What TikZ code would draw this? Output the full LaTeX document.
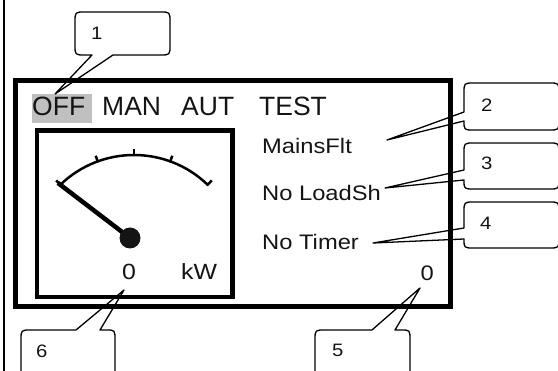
\documentclass[tikz,border=0pt]{standalone}
\usepackage{graphicx}
\usepackage{fontspec}
\setmainfont{Liberation Sans}
\definecolor{hl}{RGB}{192,192,192}
\definecolor{ink}{RGB}{20,20,20}
\newcommand{\sx}[1]{\scalebox{1.13}[1]{#1}}
% left-pointing callout: #1 top, #2 bottom, #3 upper junction, #4 tip
\newcommand{\lcallout}[4]{%
  \draw[callout] (474,#1) -- (549,#1) .. controls (559,#1) .. (559,{#1+10}) -- (559,{#2-10})
    .. controls (559,#2) .. (549,#2) -- (474,#2) .. controls (464,#2) .. (464,{#2-9})
    -- (#4) -- (464,#3) -- (464,{#1+10}) .. controls (464,#1) .. (474,#1) -- cycle;}
\begin{document}
\begin{tikzpicture}[x=1pt,y=-1pt,
  txt/.style={anchor=base west,inner sep=0pt,text=ink},
  mode/.style={txt,font=\fontsize{26.5}{30}\selectfont},
  lbl/.style={txt,font=\fontsize{21}{24}\selectfont},
  mlbl/.style={txt,font=\fontsize{22}{25}\selectfont},
  num/.style={txt,font=\fontsize{18}{21}\selectfont},
  frame/.style={line width=5pt},
  meterbox/.style={line width=4.5pt},
  callout/.style={line width=1.3pt,line join=round},
  gaugearc/.style={line width=2.5pt},
  needle/.style={line width=4.5pt},
]
\useasboundingbox (0,0) rectangle (558,371);
% left page rule
\draw[line width=2pt] (4,-2) -- (4,373);
% highlight behind OFF
\fill[hl] (32,94) rectangle (92,123);
% display frames
\draw[frame] (15.7,80.7) rectangle (450.7,306.7);
\draw[meterbox] (37,130.7) rectangle (232.3,297);
% mode line
\node[mode] (off)  at (32,116) {OFF};
\node[mode] (man)  at (102,116) {MAN};
\node[mode] (aut)  at (181,116) {AUT};
\node[mode] (test) at (259,116) {TEST};
% status texts
\node[lbl] (mains) at (262,153.5) {\sx{MainsFlt}};
\node[lbl] (load)  at (262,201) {\sx{No LoadSh}};
\node[lbl] (timer) at (262,250) {\sx{No Timer}};
\node[lbl,anchor=base east] (cnt) at (434,281) {\sx{0}};
\node[mlbl] (kwval) at (122,280) {\sx{0}};
\node[mlbl] (kw)    at (181,280) {\sx{kW}};
% gauge
\coordinate (gc) at (134,261);
\draw[gaugearc] ([shift={(-134:106)}]gc) arc (-134:-46:106);
\foreach \a in {-134,-110,-90,-70,-46}
  \draw[gaugearc] ([shift={(\a:105)}]gc) -- ([shift={(\a:112)}]gc);
\coordinate (ntip) at (58,183);
\coordinate (piv) at (130,238);
\draw[needle] (ntip) -- (piv);
\fill[ink] (piv) circle (10.5pt);
% callout tips
\coordinate (t1) at (55,94);
\coordinate (t2) at (387,140);
\coordinate (t3) at (385,188);
\coordinate (t4) at (373,243);
\coordinate (t5) at (420,288);
\coordinate (t6) at (124,290);
% callout 1 (pointer below)
\draw[callout] (85,12) -- (160,12) .. controls (170,12) .. (170,22) -- (170,45)
  .. controls (170,55) .. (160,55) -- (113,55) -- (t1) -- (92,55) -- (85,55)
  .. controls (75,55) .. (75,45) -- (75,22) .. controls (75,12) .. (85,12) -- cycle;
% callouts 2-4 (pointer left)
\lcallout{83}{130}{112}{t2}
\lcallout{143}{189}{170}{t3}
\lcallout{202}{248}{228}{t4}
% callout 5 (pointer above)
\draw[callout] (410,385) -- (410,340) .. controls (410,330) .. (401,330) -- (395,330) -- (t5)
  -- (372,330) -- (325,330) .. controls (315,330) .. (315,340) -- (315,385);
% callout 6 (pointer above)
\draw[callout] (115,385) -- (115,340) .. controls (115,330) .. (106,330) -- (100,330) -- (t6)
  -- (76,330) -- (31,330) .. controls (21,330) .. (21,340) -- (21,385);
% callout numbers
\node[num] (n1) at (91,40) {\sx{1}};
\node[num] (n2) at (481,112) {\sx{2}};
\node[num] (n3) at (481,170) {\sx{3}};
\node[num] (n4) at (480,230) {\sx{4}};
\node[num] (n5) at (332,357) {\sx{5}};
\node[num] (n6) at (36,358) {\sx{6}};
\end{tikzpicture}
\end{document}
